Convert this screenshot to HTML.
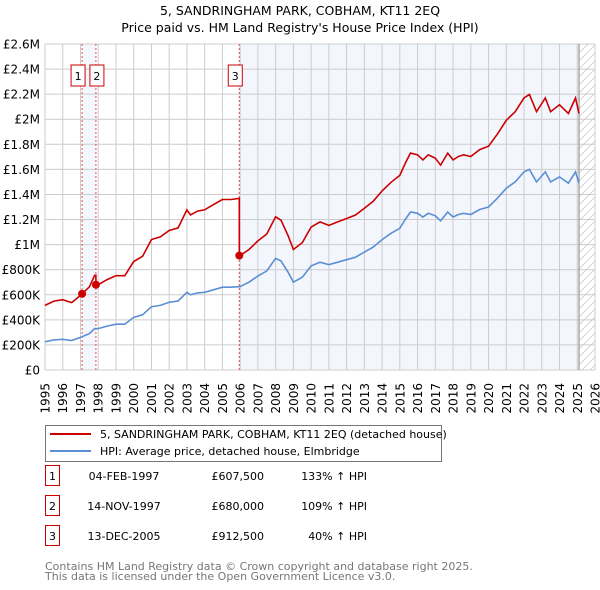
<!DOCTYPE html>
<html><head><meta charset="utf-8">
<style>
body{margin:0;background:#fff;font-family:"DejaVu Sans","Liberation Sans",sans-serif;}
#wrap{position:relative;width:600px;height:590px;overflow:hidden;}
svg text{font-family:"DejaVu Sans","Liberation Sans",sans-serif;}
</style></head><body>
<div id="wrap">
<svg id="chart" width="600" height="590"></svg>
</div>
<script>
const years=[1995,1995.5,1996,1996.5,1997,1997.5,1997.8,1998,1998.5,1999,1999.5,2000,2000.5,2001,2001.5,2002,2002.5,2003,2003.2,2003.6,2004,2004.5,2005,2005.5,2006,2006.5,2007,2007.5,2008,2008.3,2008.7,2009,2009.5,2010,2010.5,2011,2011.5,2012,2012.5,2013,2013.5,2014,2014.5,2015,2015.3,2015.6,2016,2016.3,2016.6,2017,2017.3,2017.7,2018,2018.3,2018.6,2019,2019.5,2020,2020.5,2021,2021.5,2022,2022.3,2022.7,2023.2,2023.5,2024,2024.5,2024.9,2025.1];
const hpi=[225,240,245,235,260,290,330,330,350,365,365,420,440,505,515,540,550,620,600,615,620,640,660,660,665,700,750,790,890,870,780,700,740,830,860,840,860,880,900,940,980,1040,1090,1130,1200,1260,1250,1220,1250,1230,1190,1260,1220,1240,1250,1240,1280,1300,1370,1450,1500,1580,1600,1500,1580,1500,1540,1490,1580,1490];
const saleDates=[1997.09,1997.87,2005.95];
const salePrices=[607.5,680,912.5];
const saleLabels=["1","2","3"];
const yTicks=[0,200,400,600,800,1000,1200,1400,1600,1800,2000,2200,2400,2600];
const yTickLabels=["£0","£200K","£400K","£600K","£800K","£1M","£1.2M","£1.4M","£1.6M","£1.8M","£2M","£2.2M","£2.4M","£2.6M"];
const xTicks=[1995,1996,1997,1998,1999,2000,2001,2002,2003,2004,2005,2006,2007,2008,2009,2010,2011,2012,2013,2014,2015,2016,2017,2018,2019,2020,2021,2022,2023,2024,2025,2026];

const L=45,R=595,T=44,B=370;
const x=v=>L+(v-1995)/(2026-1995)*(R-L);
const y=v=>B-v/2600*(B-T);
const NS="http://www.w3.org/2000/svg";
const svg=document.getElementById('chart');
function mk(tag,a,parent){const e=document.createElementNS(NS,tag);for(const k in a)e.setAttribute(k,a[k]);(parent||svg).appendChild(e);return e;}
function interp(t){for(let i=0;i<years.length-1;i++){if(t>=years[i]&&t<=years[i+1]){const f=(t-years[i])/(years[i+1]-years[i]);return hpi[i]+f*(hpi[i+1]-hpi[i]);}}return hpi[hpi.length-1];}
const endYear=years[years.length-1];

let t=mk('text',{x:300,y:15,'text-anchor':'middle','font-size':12.5,fill:'#000'});t.textContent="5, SANDRINGHAM PARK, COBHAM, KT11 2EQ";

t=mk('text',{x:300,y:32,'text-anchor':'middle','font-size':12.5,fill:'#000'});t.textContent="Price paid vs. HM Land Registry's House Price Index (HPI)";


let s=mk('rect',{x:x(saleDates[0]),y:T,width:x(saleDates[1])-x(saleDates[0]),height:B-T,fill:'#eef3fc',opacity:0.7});

s=mk('rect',{x:x(saleDates[2]),y:T,width:x(endYear)-x(saleDates[2]),height:B-T,fill:'#eef3fc',opacity:0.7});

const defs=mk('defs',{});
const pat=mk('pattern',{id:'hatch',width:8,height:8,patternUnits:'userSpaceOnUse'},defs);
mk('path',{d:'M0,8 L8,0',stroke:'#ccc','stroke-width':0.8},pat);
s=mk('rect',{x:x(endYear),y:T,width:R-x(endYear),height:B-T,fill:'url(#hatch)'});


const grid=mk('g',{stroke:'#cccccc','stroke-width':1});

yTicks.forEach(v=>mk('line',{x1:L,x2:R,y1:y(v),y2:y(v)},grid));
xTicks.forEach(v=>mk('line',{x1:x(v),x2:x(v),y1:T,y2:B},grid));
mk('line',{x1:x(endYear),x2:x(endYear),y1:T,y2:B,stroke:'#999','stroke-width':1.2});

yTicks.forEach((v,i)=>{const e=mk('text',{x:40,y:y(v)+4.5,'text-anchor':'end','font-size':12,fill:'#000'});e.textContent=yTickLabels[i];
});
xTicks.forEach(v=>{const px=x(v)+4.5;const e=mk('text',{x:px,y:383,'text-anchor':'end','font-size':12,fill:'#000',transform:'rotate(-90 '+px+' 383)'});e.textContent=v;
});

saleDates.forEach(d=>{const e=mk('line',{x1:x(d),x2:x(d),y1:T,y2:B,stroke:'#e05050','stroke-width':1,'stroke-dasharray':'2,2'});
});

let d=years.map((v,i)=>(i?'L':'M')+x(v).toFixed(1)+','+y(hpi[i]).toFixed(1)).join(' ');
let p=mk('path',{d:d,fill:'none',stroke:'#5b8fd4','stroke-width':1.6});


const ratios=saleDates.map((sd,i)=>salePrices[i]/interp(sd));
function ratioAt(t){let r=ratios[0];for(let i=0;i<saleDates.length;i++){if(t>=saleDates[i])r=ratios[i];}return r;}
let pts=[];
years.forEach((v,i)=>pts.push([v,hpi[i]]));
saleDates.forEach(sd=>{pts.push([sd-0.001,interp(sd)]);pts.push([sd,interp(sd)]);});
pts.sort((a,b)=>a[0]-b[0]);
d=pts.map((q,i)=>(i?'L':'M')+x(q[0]).toFixed(1)+','+y(q[1]*ratioAt(q[0])).toFixed(1)).join(' ');
p=mk('path',{d:d,fill:'none',stroke:'#cc0000','stroke-width':1.6});


saleDates.forEach((sd,i)=>{
 const c=mk('circle',{cx:x(sd),cy:y(salePrices[i]),r:4,fill:'#cc0000'});
 
});
const boxX=[x(saleDates[0])-11,x(saleDates[1])-6,x(saleDates[2])-11];
saleLabels.forEach((lb,i)=>{
 const g=mk('g',{});
 
 mk('rect',{x:boxX[i],y:65,width:14,height:21,fill:'#fff',stroke:'#cc0000','stroke-width':1},g);
 const e=mk('text',{x:boxX[i]+7,y:80,'text-anchor':'middle','font-size':11,fill:'#000'},g);e.textContent=lb;
});

const lg=mk('g',{});
mk('rect',{x:45.5,y:425.5,width:396,height:36,fill:'#fff',stroke:'#777','stroke-width':1},lg);
mk('line',{x1:50,x2:91,y1:434,y2:434,stroke:'#cc0000','stroke-width':2},lg);
mk('line',{x1:50,x2:91,y1:451,y2:451,stroke:'#5b8fd4','stroke-width':2},lg);
let e=mk('text',{x:100,y:438,'font-size':11,fill:'#000'},lg);e.textContent="5, SANDRINGHAM PARK, COBHAM, KT11 2EQ (detached house)";

e=mk('text',{x:100,y:455,'font-size':11,fill:'#000'},lg);e.textContent="HPI: Average price, detached house, Elmbridge";


const dates=["04-FEB-1997","14-NOV-1997","13-DEC-2005"];
const prices=["£607,500","£680,000","£912,500"];
const pct=["133% ↑ HPI","109% ↑ HPI","40% ↑ HPI"];
[483,513,543].forEach((ry,i)=>{
 const g=mk('g',{});
 mk('rect',{x:45.5,y:ry-17.5,width:14,height:20,fill:'#fff',stroke:'#cc0000','stroke-width':1},g);
 let q=mk('text',{x:52.5,y:ry-3,'text-anchor':'middle','font-size':11},g);q.textContent=i+1;
 q=mk('text',{x:124,y:ry-3,'text-anchor':'middle','font-size':11},g);q.textContent=dates[i];
 q=mk('text',{x:264,y:ry-3,'text-anchor':'end','font-size':11},g);q.textContent=prices[i];
 q=mk('text',{x:367,y:ry-3,'text-anchor':'end','font-size':11},g);q.textContent=pct[i];
});
e=mk('text',{x:45,y:570,'font-size':11,fill:'#777'});e.textContent="Contains HM Land Registry data © Crown copyright and database right 2025.";

e=mk('text',{x:45,y:580,'font-size':11,fill:'#777'});e.textContent="This data is licensed under the Open Government Licence v3.0.";

</script>
</body></html>
